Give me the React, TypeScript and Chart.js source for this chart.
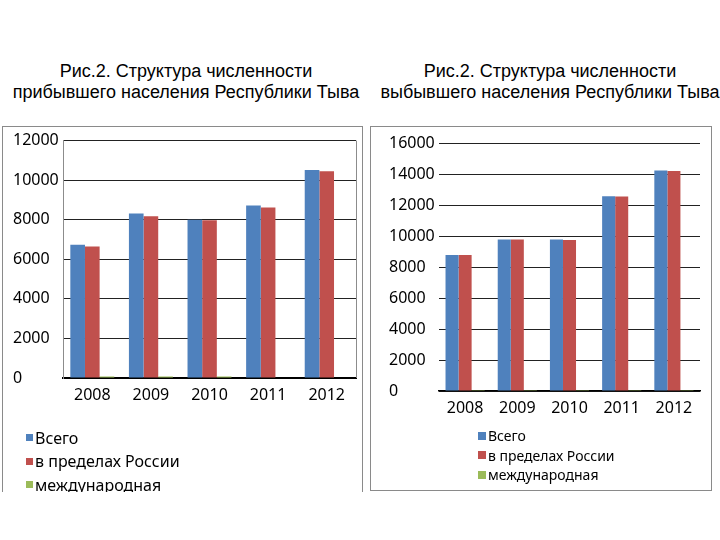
import React, { useEffect, useRef } from "react";
import { Chart, registerables } from "chart.js";

Chart.register(...registerables);

const years = ["2008", "2009", "2010", "2011", "2012"];
const seriesNames = ["Всего", "в пределах России", "международная"];
const seriesColors = ["#4F81BD", "#C0504D", "#9BBB59"];

const arrivedTotal = [6730, 8320, 8000, 8720, 10510];
const arrivedRussia = [6650, 8170, 7970, 8620, 10450];
const arrivedIntl = [80, 80, 70, 30, 20];

const departedTotal = [8780, 9770, 9770, 12570, 14230];
const departedRussia = [8780, 9770, 9750, 12550, 14190];
const departedIntl = [10, 10, 10, 10, 10];

const leftTitle = ["Рис.2. Структура численности", "прибывшего населения Республики Тыва"];
const rightTitle = ["Рис.2. Структура численности", "выбывшего населения Республики Тыва"];

const leftTicks = { max: 12000, step: 2000 };
const rightTicks = { max: 16000, step: 2000 };

const FONT = "'Noto Sans', 'Open Sans', sans-serif";

type ChartProps = {
  values: number[][];
  width: number;
  height: number;
  ticks: { max: number; step: number };
  padding: { left: number; right: number; top: number; bottom: number };
  yWidth: number;
  xHeight: number;
  sideBorders: boolean;
  xBorderWidth: number;
};

function BarChart(p: ChartProps) {
  const ref = useRef<HTMLCanvasElement | null>(null);
  useEffect(() => {
    if (!ref.current) return;
    const framePlugin = {
      id: "sideFrame",
      afterDraw(chart: any) {
        if (!p.sideBorders) return;
        const { ctx, chartArea } = chart;
        ctx.save();
        ctx.strokeStyle = "#8c8c8c";
        ctx.lineWidth = 1;
        ctx.beginPath();
        const x = Math.round(chartArea.right) + 0.5;
        ctx.moveTo(x, chartArea.top);
        ctx.lineTo(x, chartArea.bottom);
        ctx.stroke();
        ctx.restore();
      },
    };
    const chart = new Chart(ref.current, {
      type: "bar",
      data: {
        labels: years,
        datasets: seriesNames.map((name, i) => ({
          label: name,
          data: p.values[i],
          backgroundColor: seriesColors[i],
          borderWidth: 0,
          categoryPercentage: 0.75,
          barPercentage: 1.0,
        })),
      },
      options: {
        responsive: false,
        animation: false,
        layout: { padding: p.padding },
        plugins: {
          legend: { display: false },
          title: { display: false },
          tooltip: { enabled: false },
        },
        scales: {
          x: {
            grid: { display: false, drawTicks: false },
            border: { display: true, color: "#000", width: p.xBorderWidth },
            ticks: { color: "#000", font: { family: FONT, size: 16 }, padding: 8 },
            afterFit: (axis: any) => {
              axis.height = p.xHeight;
            },
          },
          y: {
            min: 0,
            max: p.ticks.max,
            grid: { color: "#222", lineWidth: 1, drawTicks: false },
            border: { display: p.sideBorders, color: "#8c8c8c", width: 1 },
            ticks: {
              stepSize: p.ticks.step,
              color: "#000",
              font: { family: FONT, size: 16 },
              crossAlign: "far",
              padding: 4,
              callback: (v: any) => String(v),
            },
            afterFit: (axis: any) => {
              axis.width = p.yWidth;
            },
          },
        },
      },
      plugins: [framePlugin],
    } as any);
    return () => chart.destroy();
  }, []);
  return (
    <canvas
      ref={ref}
      width={p.width}
      height={p.height}
      style={{ width: p.width, height: p.height, display: "block" }}
    />
  );
}

function Legend({ fontSize, gap, box }: { fontSize: number; gap: number; box: number }) {
  return (
    <div style={{ fontFamily: FONT, fontSize, color: "#000" }}>
      {seriesNames.map((n, i) => (
        <div key={n} style={{ display: "flex", alignItems: "center", height: gap, whiteSpace: "nowrap" }}>
          <span
            style={{
              display: "inline-block",
              width: box,
              height: box,
              background: seriesColors[i],
              marginRight: 2,
            }}
          />
          <span>{n}</span>
        </div>
      ))}
    </div>
  );
}

function Title({ lines, left, width }: { lines: string[]; left: number; width: number }) {
  return (
    <div
      style={{
        position: "absolute",
        left,
        top: 61,
        width,
        textAlign: "center",
        fontFamily: "'Liberation Sans', Arial, sans-serif",
        fontSize: 18,
        lineHeight: "21px",
        color: "#000",
        whiteSpace: "nowrap",
      }}
    >
      {lines.map((l) => (
        <div key={l}>{l}</div>
      ))}
    </div>
  );
}

export default function App() {
  return (
    <div
      style={{
        position: "absolute",
        left: 0,
        top: 0,
        width: 720,
        height: 540,
        background: "#fff",
        overflow: "hidden",
      }}
    >
      <Title lines={leftTitle} left={0} width={372} />
      <Title lines={rightTitle} left={380} width={340} />

      {/* left panel, cropped at bottom */}
      <div
        style={{
          position: "absolute",
          left: 2,
          top: 126,
          width: 361,
          height: 366,
          borderTop: "1px solid #8a8a8a",
          borderLeft: "1px solid #8a8a8a",
          borderRight: "1px solid #8a8a8a",
          overflow: "hidden",
          boxSizing: "border-box",
        }}
      >
        <div style={{ position: "absolute", left: 0, top: 0 }}>
          <BarChart
            values={[arrivedTotal, arrivedRussia, arrivedIntl]}
            width={359}
            height={300}
            ticks={leftTicks}
            padding={{ left: 10, right: 6, top: 9, bottom: 0 }}
            yWidth={50}
            xHeight={49}
            sideBorders={true}
            xBorderWidth={2}
          />
        </div>
        <div style={{ position: "absolute", left: 23, top: 299 }}>
          <Legend fontSize={16} gap={23.5} box={7} />
        </div>
      </div>

      {/* right panel */}
      <div
        style={{
          position: "absolute",
          left: 370,
          top: 126,
          width: 342,
          height: 365,
          border: "1px solid #8a8a8a",
          boxSizing: "border-box",
        }}
      >
        <div style={{ position: "absolute", left: 0, top: 0 }}>
          <BarChart
            values={[departedTotal, departedRussia, departedIntl]}
            width={340}
            height={300}
            ticks={rightTicks}
            padding={{ left: 18, right: 11, top: 16, bottom: 0 }}
            yWidth={50}
            xHeight={36}
            sideBorders={false}
            xBorderWidth={1.5}
          />
        </div>
        <div style={{ position: "absolute", left: 107, top: 299 }}>
          <Legend fontSize={14} gap={19.5} box={8} />
        </div>
      </div>
    </div>
  );
}
